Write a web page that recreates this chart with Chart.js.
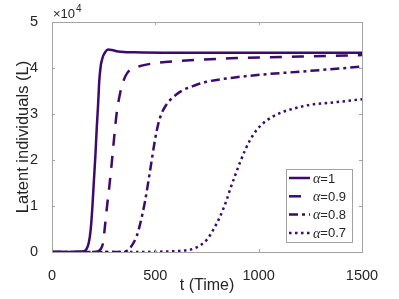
<!DOCTYPE html>
<html>
<head>
<meta charset="utf-8">
<script src="https://cdn.jsdelivr.net/npm/chart.js@4.4.1/dist/chart.umd.min.js"></script>
<style>
  html, body { margin: 0; padding: 0; background: #fff; }
  #wrap { width: 399px; height: 299px; }
</style>
</head>
<body>
<div id="wrap"><canvas id="chart" width="399" height="299"></canvas></div>
<script>
const labels = ['α=1', 'α=0.9', 'α=0.8', 'α=0.7']

const t1 = [0, 100, 150, 165, 178, 187, 195, 203, 210, 216, 223, 229, 236, 242, 248, 258, 271, 290, 320, 400, 600, 1000, 1500]
const L1 = [0, 0, 100, 500, 2000, 4800, 9500, 15700, 21000, 26500, 32000, 37400, 40500, 41800, 42700, 43500, 44000, 43900, 43600, 43400, 43300, 43300, 43300]

const t09 = [0, 200, 222, 235, 247, 256, 266, 278, 289, 301, 313, 325, 337, 355, 377, 416, 489, 600, 861, 1200, 1500]
const L09 = [0, 0, 100, 600, 2000, 5500, 9800, 14500, 19300, 25000, 30200, 33500, 35900, 38200, 39600, 40300, 41000, 41500, 42100, 42500, 42800]

const t08 = [0, 300, 353, 380, 410, 426, 450, 474, 498, 515, 531, 550, 571, 600, 634, 690, 748, 876, 1050, 1200, 1500]
const L08 = [0, 0, 100, 1000, 3500, 6000, 11000, 17500, 24300, 28000, 30200, 31800, 33000, 34200, 35200, 36200, 37000, 37900, 38700, 39200, 40300]

const t07 = [0, 400, 500, 600, 668, 700, 748, 780, 813, 845, 861, 885, 910, 935, 958, 990, 1022, 1070, 1119, 1180, 1248, 1380, 1500]
const L07 = [0, 0, 50, 200, 500, 1000, 2600, 4800, 7700, 11300, 13500, 16500, 19500, 22200, 24300, 26500, 28000, 29500, 30500, 31300, 32000, 32600, 33200]

const xTicks = [0, 500, 1000, 1500]
const yTicks = [0, 10000, 20000, 30000, 40000, 50000]

const lineColor = '#3d0a70'
const font = "'Liberation Sans', Arial, Helvetica, sans-serif"

const pts = (ts, ls) => ts.map((t, i) => ({ x: t, y: ls[i] }))

const styles = [
  { dash: [] },
  { dash: [12, 10] },
  { dash: [9, 4, 3, 4] },
  { dash: [2.5, 3.5] }
]
const series = [pts(t1, L1), pts(t09, L09), pts(t08, L08), pts(t07, L07)]

// box around the plot, inward ticks, exponent and legend
const framePlugin = {
  id: 'frame',
  afterDraw(chart) {
    const { ctx, chartArea: a, scales: { x, y } } = chart
    ctx.save()
    ctx.strokeStyle = '#a3a3a3'
    ctx.lineWidth = 1
    ctx.strokeRect(Math.round(a.left) + 0.5, Math.round(a.top) + 0.5, Math.round(a.right - a.left), Math.round(a.bottom - a.top))
    ctx.beginPath()
    xTicks.forEach(v => {
      const px = Math.round(x.getPixelForValue(v)) + 0.5
      ctx.moveTo(px, a.bottom); ctx.lineTo(px, a.bottom - 3)
      ctx.moveTo(px, a.top); ctx.lineTo(px, a.top + 3)
    })
    yTicks.forEach(v => {
      const py = Math.round(y.getPixelForValue(v)) + 0.5
      ctx.moveTo(a.left, py); ctx.lineTo(a.left + 3, py)
      ctx.moveTo(a.right, py); ctx.lineTo(a.right - 3, py)
    })
    ctx.stroke()

    // x10^4
    ctx.fillStyle = '#262626'
    ctx.textBaseline = 'alphabetic'
    ctx.font = '13px ' + font
    ctx.fillText('×10', a.left + 1, a.top - 4)
    const ew = ctx.measureText('×10').width
    ctx.font = '10px ' + font
    ctx.fillText('4', a.left + 2 + ew, a.top - 10)

    // legend
    const bx = 286, by = 169, bw = 66, bh = 73
    ctx.fillStyle = '#fff'
    ctx.fillRect(bx, by, bw, bh)
    ctx.strokeStyle = '#a3a3a3'
    ctx.strokeRect(bx + 0.5, by + 0.5, bw, bh)
    labels.forEach((lab, i) => {
      const ly = 178 + i * 18.3
      ctx.strokeStyle = lineColor
      ctx.lineWidth = 2.5
      ctx.setLineDash(styles[i].dash)
      ctx.beginPath()
      ctx.moveTo(289, ly); ctx.lineTo(310, ly)
      ctx.stroke()
      ctx.setLineDash([])
      ctx.fillStyle = '#262626'
      ctx.textBaseline = 'middle'
      ctx.font = "italic 14px 'Liberation Serif', 'DejaVu Serif', serif"
      ctx.fillText('α', 313, ly + 1)
      const aw = ctx.measureText('α').width
      ctx.font = '13px ' + font
      ctx.fillText(lab.slice(1), 313 + aw, ly + 1)
    })
    ctx.restore()
  }
}

new Chart(document.querySelector('#chart').getContext('2d'), {
  type: 'line',
  data: {
    datasets: series.map((d, i) => ({
      label: labels[i],
      data: d,
      borderColor: lineColor,
      borderWidth: 2.5,
      borderDash: styles[i].dash,
      pointRadius: 0,
      fill: false,
      cubicInterpolationMode: 'monotone'
    }))
  },
  options: {
    responsive: false,
    animation: false,
    events: [],
    layout: { padding: { top: 22, right: 37, left: 14, bottom: 0 } },
    plugins: { legend: { display: false }, tooltip: { enabled: false } },
    scales: {
      x: {
        type: 'linear',
        min: 0,
        max: 1500,
        afterBuildTicks: s => { s.ticks = xTicks.map(v => ({ value: v })) },
        afterFit: s => { s.height = 47 },
        grid: { display: false },
        border: { display: false },
        ticks: { color: '#262626', font: { family: font, size: 14.5 }, padding: 7, maxRotation: 0, callback: v => String(v) },
        title: { display: true, text: 't (Time)', color: '#262626', font: { family: font, size: 16 }, padding: { top: 1 } }
      },
      y: {
        type: 'linear',
        min: 0,
        max: 50000,
        afterBuildTicks: s => { s.ticks = yTicks.map(v => ({ value: v })) },
        afterFit: s => { s.width = 38 },
        grid: { display: false },
        border: { display: false },
        ticks: { color: '#262626', font: { family: font, size: 14.5 }, padding: 6, callback: v => String(v / 10000) },
        title: { display: true, text: 'Latent individuals (L)', color: '#262626', font: { family: font, size: 16.5 }, padding: { top: 0, bottom: 0 } }
      }
    }
  },
  plugins: [framePlugin]
})
</script>
</body>
</html>
